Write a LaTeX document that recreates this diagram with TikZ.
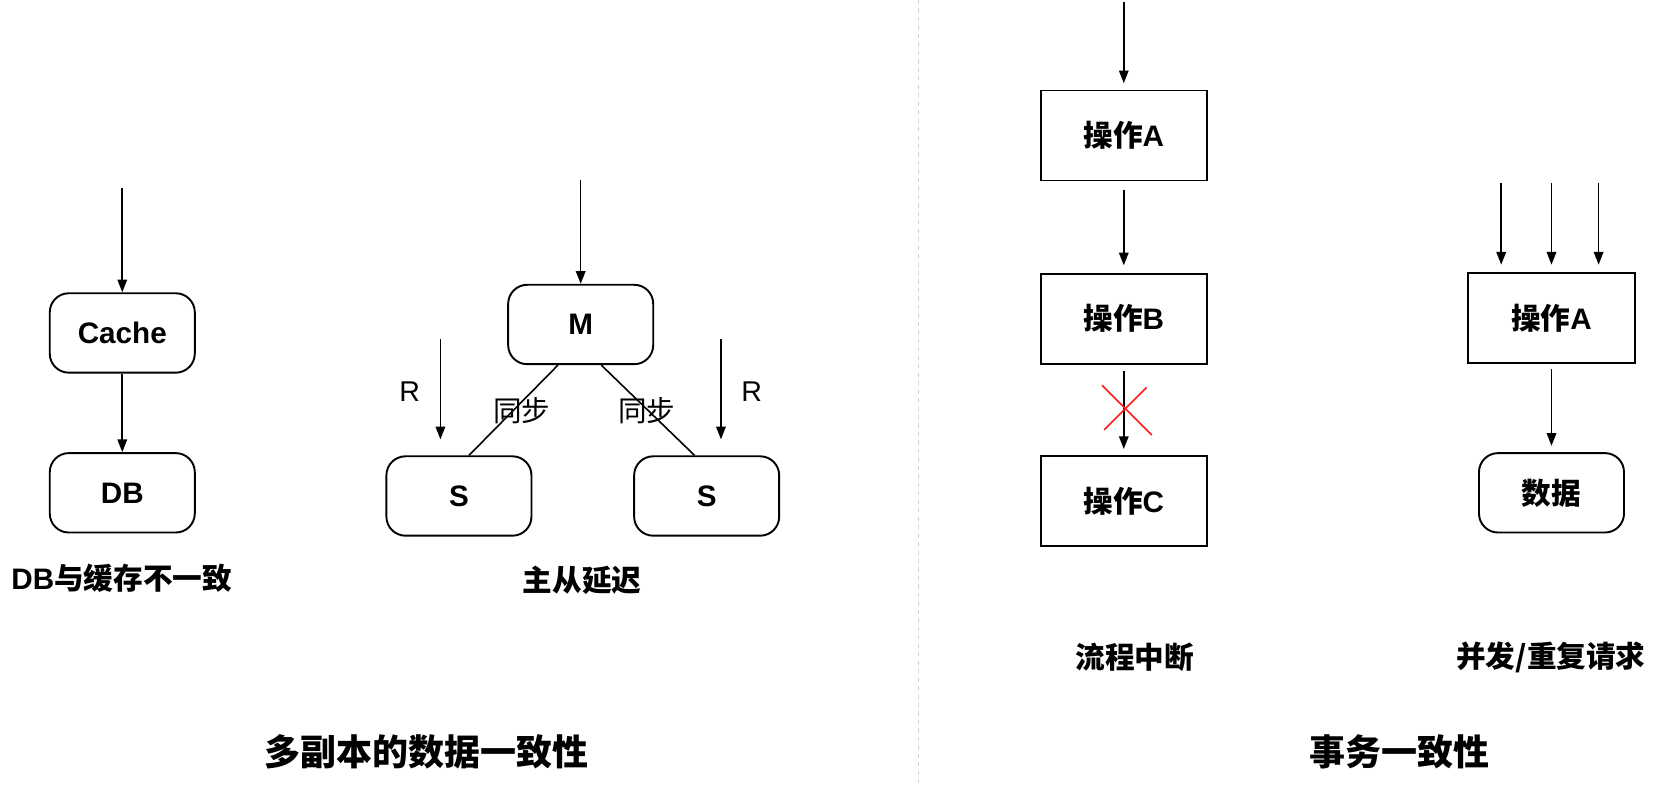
\documentclass[tikz,border=0pt]{standalone}
\usepackage{fontspec}
\setmainfont{Liberation Sans}
\newfontfamily\cjk{Noto Sans CJK SC}
\newcommand\zh[1]{{\cjk #1}}
\usetikzlibrary{arrows.meta}
\begin{document}
\begin{tikzpicture}[x=1pt,y=-1pt,
 every node/.style={font=\fontsize{28}{34}\selectfont\bfseries, inner sep=0pt},
 rbox/.style={draw, line width=1.8pt, rounded corners=18pt, minimum width=137pt, minimum height=75pt},
 sbox/.style={draw, line width=1.8pt, minimum width=157pt, minimum height=85pt},
 arr/.style={-{Triangle[length=12pt,width=9pt]}, line width=1.5pt},
 plainline/.style={line width=1.5pt},
 lbl/.style={font=\fontsize{27}{32}\selectfont},
 title/.style={font=\fontsize{34}{40}\selectfont\bfseries},
 sep/.style={draw=gray!35, line width=1pt, dash pattern=on 4pt off 4pt},
 cross/.style={draw=red!90, line width=1.5pt}]
\useasboundingbox (0,0) rectangle (1568,742);

% separator
\coordinate (sepT) at (868,0);
\coordinate (sepB) at (868,742);
\draw[sep] (sepT) -- (sepB);

% ---- DB / cache
\node[rbox] (cache) at (115.5,314.5) {Cache};
\node[rbox] (db) at (115.5,465.5) {DB};
\coordinate (c0) at (115.5,178);
\draw[arr] (c0) -- (cache);
\draw[arr] (cache) -- (db);
\node (cap1) at (115,546) {DB\zh{与缓存不一致}};

% ---- master / slave
\node[rbox] (M) at (548.5,306.5) {M};
\node[rbox] (S1) at (433.5,468.5) {S};
\node[rbox] (S2) at (667.5,468.5) {S};
\coordinate (m0) at (548.5,170);
\draw[arr] (m0) -- (M);
\coordinate (r1a) at (416,320);
\coordinate (r1b) at (416,415);
\coordinate (r2a) at (681,320);
\coordinate (r2b) at (681,415);
\draw[arr] (r1a) -- (r1b);
\draw[arr] (r2a) -- (r2b);
\node[lbl] (R1) at (387,370) {R};
\node[lbl] (R2) at (710,370) {R};
\draw[plainline] ([xshift=-21.5pt]M.south) -- ([xshift=9.5pt]S1.north);
\draw[plainline] ([xshift=19.5pt]M.south) -- ([xshift=-11.5pt]S2.north);
\node[lbl] (sync1) at (493,388) {\zh{同步}};
\node[lbl] (sync2) at (611,388) {\zh{同步}};
\node (cap2) at (550,548) {\zh{主从延迟}};

\node[title] (t1) at (403,710) {\zh{多副本的数据一致性}};

% ---- process interruption
\node[sbox] (A) at (1061.5,128) {\zh{操作}A};
\node[sbox] (B) at (1061.5,301) {\zh{操作}B};
\node[sbox] (C) at (1061.5,473.5) {\zh{操作}C};
\coordinate (a0) at (1061.5,2);
\draw[arr] (a0) -- ([yshift=6pt]A.north);
\draw[arr] ([yshift=-8pt]A.south) -- ([yshift=7pt]B.north);
\draw[arr] ([yshift=-6pt]B.south) -- ([yshift=6pt]C.north);
\coordinate (x1) at (1041,364);
\coordinate (x2) at (1088,411);
\coordinate (x3) at (1043,406);
\coordinate (x4) at (1083,366);
\draw[cross] (x1) -- (x2);
\draw[cross] (x3) -- (x4);
\node (cap3) at (1072,621) {\zh{流程中断}};

% ---- concurrent requests
\node[sbox] (A2) at (1465.5,300.5) {\zh{操作}A};
\node[rbox] (data) at (1465.5,465.5) {\zh{数据}};
\coordinate (p1) at (1418,173);
\coordinate (p2) at (1465.5,173);
\coordinate (p3) at (1510,173);
\coordinate (q1) at (1418,250);
\coordinate (q2) at (1465.5,250);
\coordinate (q3) at (1510,250);
\draw[arr] (p1) -- (q1);
\draw[arr] (p2) -- (q2);
\draw[arr] (p3) -- (q3);
\draw[arr] ([yshift=-5pt]A2.south) -- ([yshift=6pt]data.north);
\node (cap4) at (1465,621) {\zh{并发/重复请求}};

\node[title] (t2) at (1322,710) {\zh{事务一致性}};
\end{tikzpicture}
\end{document}
